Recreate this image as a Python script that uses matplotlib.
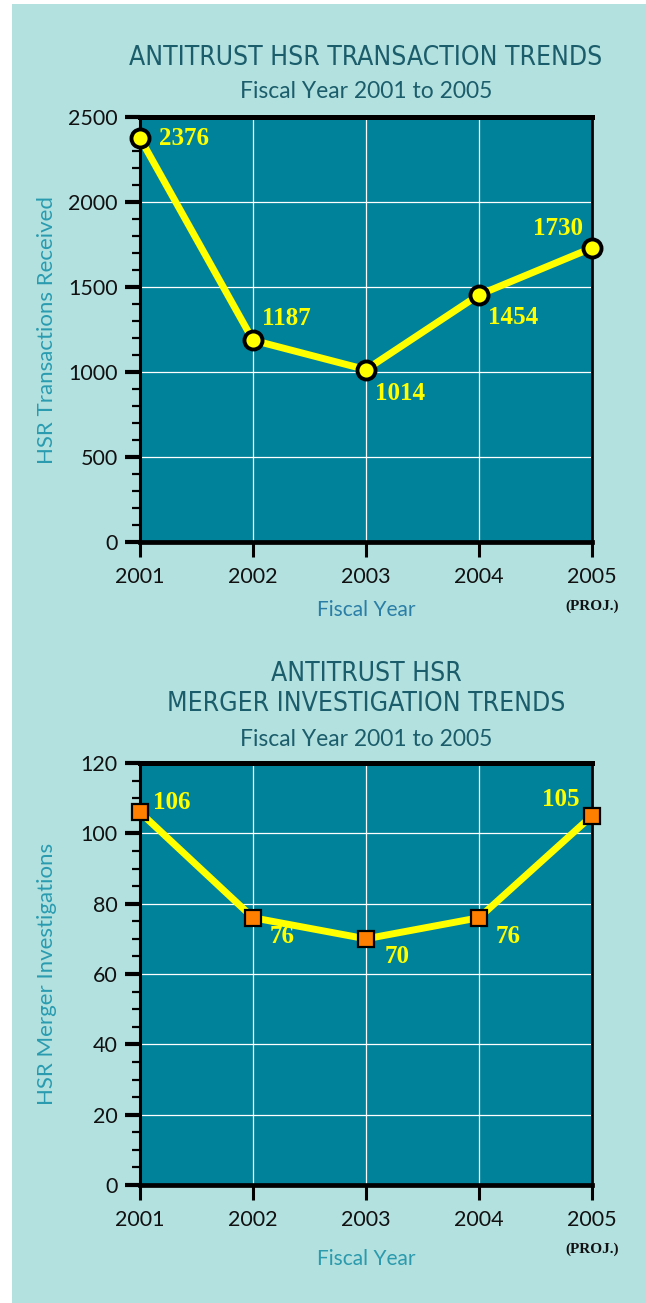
import matplotlib
matplotlib.use("Agg")
import matplotlib.pyplot as plt
from matplotlib import font_manager
from matplotlib.patches import Rectangle
from matplotlib.ticker import MultipleLocator

years = [2001, 2002, 2003, 2004, 2005]
year_labels = ["2001", "2002", "2003", "2004", "2005"]
transactions = [2376, 1187, 1014, 1454, 1730]
investigations = [106, 76, 70, 76, 105]

# label offsets in pixels (dx, dy, horizontal alignment)
trans_offsets = [(19, 0, "left"), (9, 22, "left"), (9, -24, "left"), (9, -23, "left"), (-9, 19, "right")]
inv_offsets = [(13, 10, "left"), (17, -19, "left"), (19, -18, "left"), (17, -19, "left"), (-12, 16, "right")]

BG = "#b3e1e0"
TEAL = "#00829a"
TITLE_C = "#1b5d6b"
YLAB_C = "#2a9cb0"
SANS = ["Lato", "DejaVu Sans"]
SERIF = ["Liberation Serif", "DejaVu Serif"]

# narrow face for the titles, whatever is installed
fonts = font_manager.fontManager.ttflist
names = {f.name for f in fonts}
if "Liberation Sans Narrow" in names:
    title_kw = dict(family=["Liberation Sans Narrow"], fontsize=21)
elif any(f.name == "DejaVu Sans" and f.stretch == "condensed" for f in fonts):
    title_kw = dict(family=["DejaVu Sans"], fontstretch="condensed", fontsize=19)
else:
    title_kw = dict(family=["Roboto", "DejaVu Sans"], fontsize=18.5)

W, H = 646, 1303
fig = plt.figure(figsize=(W / 100, H / 100), dpi=100, facecolor="white")
fig.patches.append(Rectangle((12 / W, 0), 1.05, 1 - 4 / H, transform=fig.transFigure,
                             facecolor=BG, edgecolor="none", zorder=-10))


def fx(px):
    return px / W


def fy(py):
    return 1 - py / H


def make_axes(top_px, bottom_px, ymax, major, minor):
    ax = fig.add_axes([fx(140), fy(bottom_px), fx(592 - 140), (bottom_px - top_px) / H])
    ax.set_facecolor(TEAL)
    ax.set_xlim(2001, 2005)
    ax.set_ylim(0, ymax)
    ax.set_xticks(years)
    ax.set_xticklabels(year_labels)
    ax.yaxis.set_major_locator(MultipleLocator(major))
    ax.yaxis.set_minor_locator(MultipleLocator(minor))
    ax.grid(True, color="white", linewidth=0.9)
    ax.set_axisbelow(True)
    ax.spines["top"].set_linewidth(3.6)
    ax.spines["bottom"].set_linewidth(3.4)
    ax.spines["left"].set_linewidth(2.2)
    ax.spines["right"].set_linewidth(2.0)
    ax.tick_params(axis="y", which="major", length=11, width=3, pad=5,
                   labelsize=15.5, labelcolor="#111111")
    ax.tick_params(axis="y", which="minor", length=6, width=1.6)
    ax.tick_params(axis="x", which="major", length=11, width=2.2, pad=7,
                   labelsize=15.5, labelcolor="#111111")
    for lab in ax.get_xticklabels() + ax.get_yticklabels():
        lab.set_family(SANS)
    return ax


# ---- top chart ----
fig.text(fx(366), fy(58), "ANTITRUST HSR TRANSACTION TRENDS", ha="center", va="center",
         color=TITLE_C, **title_kw)
fig.text(fx(366), fy(92), "Fiscal Year 2001 to 2005", ha="center", va="center",
         fontsize=16.5, color=TITLE_C, family=SANS)

ax1 = make_axes(117, 542, 2500, 500, 100)
ax1.plot(years, transactions, color="#ffff00", linewidth=5, marker="o", markersize=13,
         markerfacecolor="#ffff00", markeredgecolor="black", markeredgewidth=2.8,
         clip_on=False, zorder=5)
for x, v, (dx, dy, ha) in zip(years, transactions, trans_offsets):
    ax1.annotate(str(v), (x, v), xytext=(dx, dy), textcoords="offset pixels",
                 ha=ha, va="center", fontsize=18, fontweight="bold", color="#ffff00",
                 family=SERIF, zorder=6, annotation_clip=False)
ax1.set_ylabel("HSR Transactions Received", fontsize=16, color=YLAB_C, family=SANS)
ax1.yaxis.set_label_coords((57 - 140) / 452, 0.5)
ax1.set_xlabel("Fiscal Year", fontsize=15, color="#2a7ea6", family=SANS)
ax1.xaxis.set_label_coords(0.5, (542 - 600) / 425)
ax1.text(1.0, (542 - 606) / 425, "(PROJ.)", transform=ax1.transAxes, ha="center",
         va="center", fontsize=11, fontweight="bold", color="#111111", family=SERIF)

# ---- bottom chart ----
fig.text(fx(366), fy(674), "ANTITRUST HSR", ha="center", va="center",
         color=TITLE_C, **title_kw)
fig.text(fx(366), fy(704), "MERGER INVESTIGATION TRENDS", ha="center", va="center",
         color=TITLE_C, **title_kw)
fig.text(fx(366), fy(740), "Fiscal Year 2001 to 2005", ha="center", va="center",
         fontsize=16.5, color=TITLE_C, family=SANS)

ax2 = make_axes(763, 1185, 120, 20, 5)
ax2.plot(years, investigations, color="#ffff00", linewidth=5, marker="s", markersize=12,
         markerfacecolor="#ff7f00", markeredgecolor="black", markeredgewidth=1.6,
         clip_on=False, zorder=5)
for x, v, (dx, dy, ha) in zip(years, investigations, inv_offsets):
    ax2.annotate(str(v), (x, v), xytext=(dx, dy), textcoords="offset pixels",
                 ha=ha, va="center", fontsize=18, fontweight="bold", color="#ffff00",
                 family=SERIF, zorder=6, annotation_clip=False)
ax2.set_ylabel("HSR Merger Investigations", fontsize=16, color=YLAB_C, family=SANS)
ax2.yaxis.set_label_coords((57 - 140) / 452, 0.5)
ax2.set_xlabel("Fiscal Year", fontsize=15, color="#2a9aac", family=SANS)
ax2.xaxis.set_label_coords(0.5, (1185 - 1249) / 422)
ax2.text(1.0, (1185 - 1249) / 422, "(PROJ.)", transform=ax2.transAxes, ha="center",
         va="center", fontsize=11, fontweight="bold", color="#111111", family=SERIF)

fig.savefig("out.png", dpi=100, facecolor="white")
